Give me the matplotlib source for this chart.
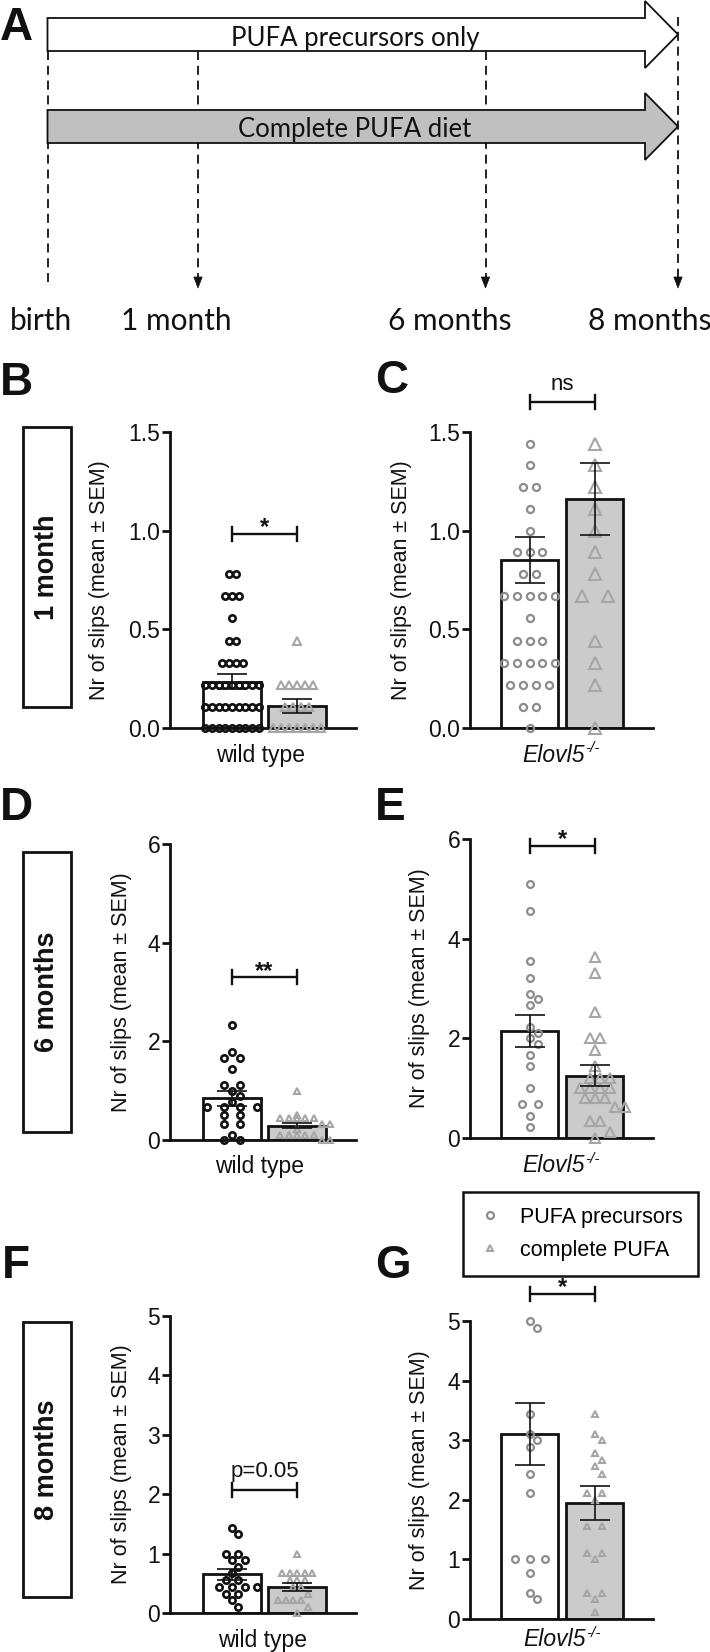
import numpy as np
import matplotlib
matplotlib.use('Agg')
import matplotlib.pyplot as plt
from matplotlib.patches import Polygon, Rectangle
from matplotlib.lines import Line2D

plt.rcParams['font.family'] = ['Liberation Sans', 'DejaVu Sans']

# ---------------- data ----------------
diet_groups = ['PUFA precursors', 'complete PUFA']
arrow_labels = ['PUFA precursors only', 'Complete PUFA diet']
timeline_labels = ['birth', '1 month', '6 months', '8 months']
age_labels = ['1 month', '6 months', '8 months']
genotype_labels = ['wild type', 'Elovl5']
genotype_sup = '-/-'
ylabel_text = 'Nr of slips (mean ± SEM)'

# B: 1 month, wild type
B_pre = [0.78, 0.78, 0.67, 0.67, 0.67, 0.56, 0.44, 0.44, 0.33, 0.33, 0.33, 0.33,
         0.22, 0.22, 0.22, 0.22, 0.22, 0.22, 0.22, 0.22, 0.22,
         0.11, 0.11, 0.11, 0.11, 0.11, 0.11, 0.11, 0.11, 0.11,
         0.0, 0.0, 0.0, 0.0, 0.0, 0.0, 0.0, 0.0, 0.0]
B_com = [0.44, 0.22, 0.22, 0.22, 0.22, 0.22, 0.11, 0.11, 0.11, 0.11,
         0.0, 0.0, 0.0, 0.0, 0.0, 0.0, 0.0]
B_mean = [0.236, 0.113]
B_sem = [0.039, 0.034]
B_sig = (0.983, '*')

# C: 1 month, Elovl5-/-
C_pre = [1.44, 1.33, 1.22, 1.22, 1.11, 1.0, 0.89, 0.89, 0.89, 0.78, 0.78,
         0.67, 0.67, 0.67, 0.67, 0.67, 0.56, 0.44, 0.44, 0.44,
         0.33, 0.33, 0.33, 0.33, 0.33, 0.22, 0.22, 0.22, 0.22, 0.11, 0.11, 0.0]
C_com = [1.44, 1.33, 1.22, 1.11, 1.0, 0.89, 0.78, 0.67, 0.67, 0.44, 0.33, 0.22, 0.0]
C_mean = [0.851, 1.161]
C_sem = [0.115, 0.182]
C_sig = (1.652, 'ns')

# D: 6 months, wild type
D_pre = [2.33, 1.78, 1.67, 1.67, 1.44, 1.11, 1.11, 1.0, 0.89, 0.78, 0.67, 0.67,
         0.67, 0.67, 0.5, 0.5, 0.33, 0.33, 0.11, 0.0, 0.0]
D_com = [1.0, 0.5, 0.44, 0.44, 0.44, 0.44, 0.44, 0.33, 0.33, 0.22, 0.11, 0.11,
         0.11, 0.11, 0.11, 0.0, 0.0]
D_mean = [0.845, 0.29]
D_sem = [0.15, 0.05]
D_sig = (3.30, '**')

# E: 6 months, Elovl5-/-
E_pre = [5.1, 4.55, 3.55, 3.22, 2.89, 2.78, 2.67, 2.22, 2.11, 2.0, 1.89, 1.67,
         1.44, 1.0, 0.67, 0.67, 0.44, 0.22]
E_com = [3.63, 3.31, 2.52, 2.0, 2.0, 1.77, 1.44, 1.2, 1.2, 1.2, 1.0, 1.0, 1.0, 1.0,
         0.8, 0.8, 0.8, 0.62, 0.62, 0.33, 0.33, 0.12, 0.0]
E_mean = [2.15, 1.25]
E_sem = [0.325, 0.215]
E_sig = (5.87, '*')

# F: 8 months, wild type
F_pre = [1.44, 1.33, 1.0, 1.0, 0.89, 0.89, 0.78, 0.67, 0.56, 0.56, 0.44, 0.44,
         0.44, 0.44, 0.33, 0.33, 0.22, 0.11]
F_com = [1.0, 0.67, 0.67, 0.67, 0.67, 0.67, 0.56, 0.56, 0.56, 0.44, 0.44, 0.33,
         0.22, 0.22, 0.22, 0.22, 0.11, 0.0]
F_mean = [0.655, 0.447]
F_sem = [0.09, 0.067]
F_sig = (2.07, 'p=0.05')

# G: 8 months, Elovl5-/-
G_pre = [5.0, 4.89, 3.44, 3.11, 3.0, 2.89, 2.44, 2.11, 1.0, 1.0, 1.0, 0.78, 0.44, 0.33]
G_com = [3.44, 3.11, 3.0, 2.78, 2.67, 2.56, 2.44, 2.11, 2.11, 2.0, 1.56, 1.56,
         1.11, 1.11, 1.0, 0.44, 0.44, 0.33, 0.11]
G_mean = [3.10, 1.94]
G_sem = [0.52, 0.285]
G_sig = (5.46, '*')

# ---------------- style ----------------
W, H, DPI = 710, 1652, 100
BLACK = '#111111'
GREY_C = '#8c8c8c'
GREY_T = '#a6a6a6'
BAR_GREY = '#cbcbcb'
ARROW_GREY = '#c0c0c0'
BAR_W = 0.877
TICK_FS = 16.5
LAB_FS = 15.5
XLAB_FS = 16.5
SIG_FS = 17

fig = plt.figure(figsize=(W / DPI, H / DPI), dpi=DPI)
fig.patch.set_facecolor('white')
renderer = fig.canvas.get_renderer()


def add_ax(x0, x1, ytop, ybot):
    return fig.add_axes([x0 / W, 1 - ybot / H, (x1 - x0) / W, (ybot - ytop) / H])


def swarm_offsets(values, ppy, d, sp, maxw):
    vals = np.asarray(values, dtype=float)
    out = np.zeros(len(vals))
    px_list, py_list = [], []
    for v in sorted(set(vals.tolist()), reverse=True):
        idx = np.flatnonzero(vals == v)
        n = len(idx)
        step = sp if n == 1 else min(sp, maxw / (n - 1))
        base = (np.arange(n) - (n - 1) / 2.0) * step
        y = v * ppy
        h = sp / 2.0
        chosen = base
        done = False
        for k in range(0, 16):
            for sgn in ([0] if k == 0 else [1, -1]):
                cand = base + sgn * k * h
                if np.abs(cand).max() > maxw / 2 + sp:
                    continue
                if not px_list:
                    ok = True
                else:
                    px = np.array(px_list)
                    py = np.array(py_list)
                    ok = all(np.min(np.hypot(px - c, py - y)) >= 0.92 * d for c in cand)
                if ok:
                    chosen = cand
                    done = True
                    break
            if done:
                break
        out[idx] = chosen
        px_list.extend(chosen.tolist())
        py_list.extend([y] * n)
    return out


def panel(ax, pre, com, means, sems, ymax, yticks, ylabels, sig, pre_col, pre_mew,
          cd, csp, td, tsp, xlim):
    ax.set_xlim(*xlim)
    ax.set_ylim(0, ymax)
    ax.patch.set_alpha(0)
    for s in ['top', 'right']:
        ax.spines[s].set_visible(False)
    for s in ['left', 'bottom']:
        ax.spines[s].set_linewidth(2.0)
        ax.spines[s].set_color(BLACK)
    ax.set_xticks([])
    ax.set_yticks(yticks)
    ax.set_yticklabels(ylabels)
    ax.tick_params(axis='y', length=5.5, width=2.0, pad=1.5, labelsize=TICK_FS,
                   color=BLACK, labelcolor=BLACK)
    ax.bar([0, 1], means, width=BAR_W, color=['white', BAR_GREY], edgecolor=BLACK,
           linewidth=2.0, zorder=2)
    pos = ax.get_position()
    ppx = pos.width * W / (xlim[1] - xlim[0])
    ppy = pos.height * H / ymax
    bar_px = BAR_W * ppx - 4
    xo = swarm_offsets(pre, ppy, cd, csp, bar_px)
    ax.plot(0 + xo / ppx, pre, ls='none', marker='o', ms=(cd - pre_mew * 1.39) * 0.72,
            mfc='none', mec=pre_col, mew=pre_mew, clip_on=False, zorder=3)
    xo = swarm_offsets(com, ppy, td, tsp, bar_px)
    ax.plot(1 + xo / ppx, com, ls='none', marker='^', ms=(td - 2.6) * 0.72,
            mfc='none', mec=GREY_T, mew=1.5, clip_on=False, zorder=3)
    ax.errorbar([0, 1], means, yerr=sems, fmt='none', ecolor=BLACK, elinewidth=1.2,
                capsize=11, capthick=1.2, zorder=5, clip_on=False)
    # significance bracket
    yb, txt = sig
    tick = 7 / ppy
    ax.plot([0, 1], [yb, yb], color=BLACK, lw=1.7, clip_on=False, zorder=5,
            solid_capstyle='butt')
    for xx in (0, 1):
        ax.plot([xx, xx], [yb - tick, yb + tick], color=BLACK, lw=1.7, clip_on=False,
                zorder=5)
    off = {'*': 0.0, '**': -0.5, 'ns': 8.5, 'p=0.05': 9.5}[txt]
    star = txt in ('*', '**')
    ax.annotate(txt, xy=(0.5, yb), xytext=(0, off), textcoords='offset points',
                ha='center', va='baseline', fontsize=SIG_FS if star else 16,
                fontweight='bold' if star else 'normal', color=BLACK,
                annotation_clip=False)


XL_LEFT = (-(232 - 170) / 65, 1 + (356 - 297) / 65)
XL_RIGHT = (-(529.5 - 470) / 65, 1 + (653 - 594.5) / 65)

axB = add_ax(170, 356, 431.7, 728.3)
panel(axB, B_pre, B_com, B_mean, B_sem, 1.5, [0, 0.5, 1.0, 1.5],
      ['0.0', '0.5', '1.0', '1.5'], B_sig, BLACK, 1.9, 9, 7, 10.5, 8, XL_LEFT)
axC = add_ax(470, 653, 431.7, 728.3)
panel(axC, C_pre, C_com, C_mean, C_sem, 1.5, [0, 0.5, 1.0, 1.5],
      ['0.0', '0.5', '1.0', '1.5'], C_sig, GREY_C, 1.6, 9.3, 12.7, 15, 26, XL_RIGHT)
axD = add_ax(170, 356, 844, 1140)
panel(axD, D_pre, D_com, D_mean, D_sem, 6, [0, 2, 4, 6], ['0', '2', '4', '6'],
      D_sig, BLACK, 1.9, 9, 16.7, 8, 8.3, XL_LEFT)
axE = add_ax(470, 653, 839.3, 1137.7)
panel(axE, E_pre, E_com, E_mean, E_sem, 6, [0, 2, 4, 6], ['0', '2', '4', '6'],
      E_sig, GREY_C, 1.6, 9, 16, 13.5, 10, XL_RIGHT)
axF = add_ax(170, 356, 1315.7, 1613.3)
panel(axF, F_pre, F_com, F_mean, F_sem, 5, [0, 1, 2, 3, 4, 5],
      ['0', '1', '2', '3', '4', '5'], F_sig, BLACK, 1.9, 9, 12.7, 8.5, 7.5, XL_LEFT)
axG = add_ax(470, 653, 1321, 1619)
panel(axG, G_pre, G_com, G_mean, G_sem, 5, [0, 1, 2, 3, 4, 5],
      ['0', '1', '2', '3', '4', '5'], G_sig, GREY_C, 1.6, 9, 15, 8.5, 15, XL_RIGHT)


def ftext(x, y, s, **kw):
    return fig.text(x / W, 1 - y / H, s, **kw)


# axis labels
for ax, xc in [(axB, 100), (axC, 401.7), (axD, 122), (axE, 420), (axF, 122), (axG, 420)]:
    pos = ax.get_position()
    yc = (1 - (pos.y0 + pos.height / 2)) * H
    ftext(xc, yc, ylabel_text, rotation=90, ha='center', va='center', fontsize=LAB_FS,
          color=BLACK)

for (xc, yc) in [(261, 755), (260, 1167), (263, 1640)]:
    ftext(xc, yc, genotype_labels[0], ha='center', va='center', fontsize=XLAB_FS,
          color=BLACK)

for (xc, yc) in [(561, 755), (561, 1166), (562, 1640)]:
    t = ftext(xc, yc, genotype_labels[1], ha='center', va='center', fontsize=XLAB_FS,
              style='italic', color=BLACK)
    sup = ftext(xc, yc, genotype_sup, ha='left', va='center', fontsize=11,
                style='italic', color=BLACK)
    sb = sup.get_window_extent(renderer)
    shift = sb.width / 2.0
    t.set_position(((xc - shift) / W, 1 - yc / H))
    bb = t.get_window_extent(renderer)
    sup.set_position(((bb.x1 + 0.5) / W, (1 - yc / H) + 7 / H))

# panel letters
for (x, y, L) in [(0, 40, 'A'), (0, 395, 'B'), (375, 393, 'C'), (0, 820, 'D'),
                  (375, 820, 'E'), (2, 1278, 'F'), (375, 1278, 'G')]:
    ftext(x, y, L, ha='left', va='baseline', fontsize=33, fontweight='bold', color=BLACK)

# age boxes
for (ytop, ybot), lab in zip([(427, 707), (852, 1132), (1322, 1597)], age_labels):
    fig.add_artist(Rectangle((23 / W, 1 - ybot / H), 48 / W, (ybot - ytop) / H,
                             transform=fig.transFigure, fill=False, lw=2.0,
                             edgecolor=BLACK))
    ftext(47, (ytop + ybot) / 2, lab, rotation=90, ha='center', va='center',
          fontsize=19.5, fontweight='bold', color=BLACK)

# legend
handles = [Line2D([], [], ls='none', marker='o', ms=5, mfc='none', mec=GREY_C, mew=1.6),
           Line2D([], [], ls='none', marker='^', ms=4.5, mfc='none', mec=GREY_T, mew=1.5)]
leg = fig.legend(handles, diet_groups, loc='upper left',
                 bbox_to_anchor=(463 / W, 1 - 1191.7 / H), bbox_transform=fig.transFigure,
                 frameon=True, fancybox=False, edgecolor=BLACK, framealpha=1,
                 fontsize=15.5, borderpad=0.7, handlelength=1.1, handletextpad=0.85,
                 labelspacing=0.55, borderaxespad=0)
leg.get_frame().set_linewidth(1.8)

# ---------------- panel A: timeline diagram ----------------
axA = fig.add_axes([0, 1 - 360 / H, 1, 360 / H])
axA.set_xlim(0, W)
axA.set_ylim(360, 0)
axA.axis('off')
axA.patch.set_alpha(0)

xs_t = [47.5, 198, 485.5, 678]
tops = [51, 51, 51, 17]
for i, (x, yt) in enumerate(zip(xs_t, tops)):
    yb = 287 if i == 0 else 278
    axA.plot([x, x], [yt, yb], color=BLACK, lw=1.3, dashes=(5, 3.2), zorder=1)
    if i > 0:
        axA.add_patch(Polygon([(x - 4.2, 277), (x + 4.2, 277), (x, 288)], closed=True,
                              facecolor=BLACK, edgecolor=BLACK, lw=0.5, zorder=1))

arrow_white = Polygon([(47.5, 18), (645, 18), (645, 1), (678, 34.5), (645, 68), (645, 51),
                       (47.5, 51)], closed=True, facecolor='white', edgecolor=BLACK,
                      lw=1.3, zorder=3)
arrow_grey = Polygon([(47.5, 110), (645, 110), (645, 93), (678, 126.5), (645, 160),
                      (645, 143), (47.5, 143)], closed=True, facecolor=ARROW_GREY,
                     edgecolor=BLACK, lw=1.3, zorder=3)
axA.add_patch(arrow_white)
axA.add_patch(arrow_grey)
axA.text(355, 45.7, arrow_labels[0], ha='center', va='baseline', fontsize=18.5,
         family=['Lato', 'DejaVu Sans'], color=BLACK, zorder=4)
axA.text(355, 136.7, arrow_labels[1], ha='center', va='baseline', fontsize=18.5,
         family=['Lato', 'DejaVu Sans'], color=BLACK, zorder=4)
for xc, lab in zip([41.5, 176.5, 450, 649.5], timeline_labels):
    axA.text(xc, 330, lab, ha='center', va='baseline', fontsize=21.5,
             family=['Lato', 'DejaVu Sans'], color=BLACK)

fig.savefig('out.png', dpi=DPI, facecolor='white')
